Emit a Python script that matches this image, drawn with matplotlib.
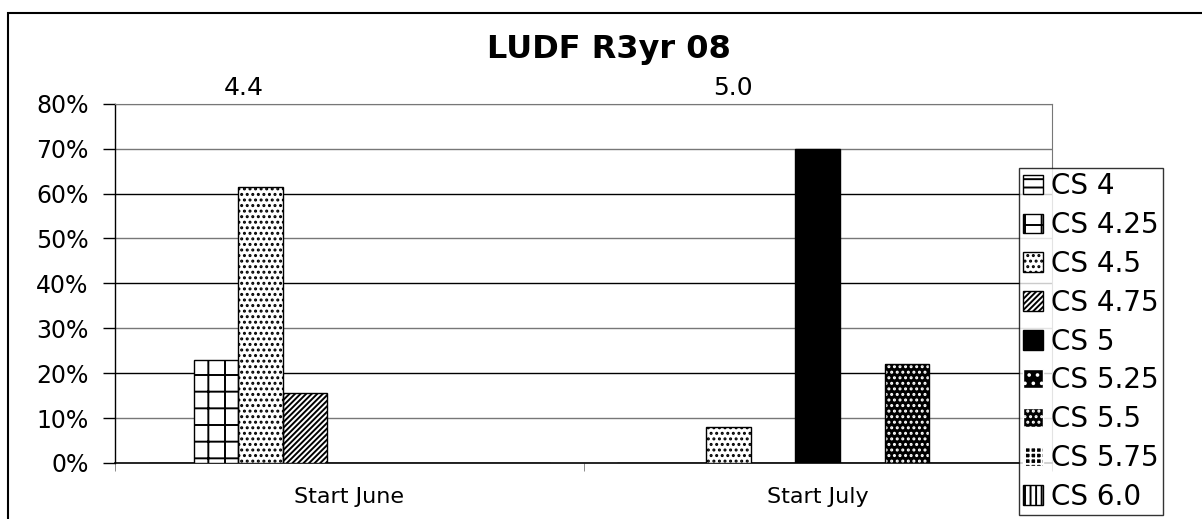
import matplotlib
matplotlib.use("Agg")
import matplotlib.pyplot as plt
from matplotlib.patches import Patch, Rectangle
from matplotlib.ticker import FuncFormatter
import numpy as np

categories = ["Start June", "Start July"]
series = ["CS 4", "CS 4.25", "CS 4.5", "CS 4.75", "CS 5",
          "CS 5.25", "CS 5.5", "CS 5.75", "CS 6.0"]
values = [
    [0, 0],       # CS 4
    [23, 0],      # CS 4.25
    [61.5, 8],    # CS 4.5
    [15.5, 0],    # CS 4.75
    [0, 70],      # CS 5
    [0, 0],       # CS 5.25
    [0, 22],      # CS 5.5
    [0, 0],       # CS 5.75
    [0, 0],       # CS 6.0
]
top_labels = ["4.4", "5.0"]

# face colour, hatch colour, hatch pattern for each series
styles = [
    ("white", "black", "--"),
    ("white", "black", "+"),
    ("white", "black", "..."),
    ("white", "black", "//////"),
    ("black", "black", ""),
    ("black", "white", ".."),
    ("black", "white", "..."),
    ("black", "white", "+++"),
    ("white", "black", "|||"),
]

plt.rcParams["font.family"] = "DejaVu Sans"
plt.rcParams["hatch.linewidth"] = 1.4

fig = plt.figure(figsize=(12.02, 5.19), dpi=100)
ax = fig.add_axes([0.0957, 0.108, 0.7795, 0.692])

x = np.arange(len(categories))
w = 0.095
for i, name in enumerate(series):
    fc, hc, hatch = styles[i]
    pos = x + (i - 4) * w
    ax.bar(pos, values[i], w, color=fc, edgecolor=hc, hatch=hatch,
           linewidth=0, zorder=3)
    ax.bar(pos, values[i], w, fill=False, edgecolor="black",
           linewidth=1.0, zorder=4)

# gridlines
for g in range(10, 81, 10):
    ax.axhline(g, color="black" if g % 20 == 0 and g < 80 else "#777777",
               linewidth=1.0, zorder=1)

ax.set_xlim(-0.5, 1.5)
ax.set_ylim(0, 80)
ax.set_yticks(range(0, 81, 10))
ax.yaxis.set_major_formatter(FuncFormatter(lambda v, p: f"{v:.0f}%"))
ax.tick_params(axis="y", direction="out", length=9, width=1, pad=10,
               labelsize=17)
ax.set_xticks(x)
ax.set_xticklabels(categories, fontsize=16)
ax.tick_params(axis="x", which="major", length=0, pad=17)
ax.set_xticks([-0.5, 0.5, 1.5], minor=True)
ax.tick_params(axis="x", which="minor", direction="out", length=6,
               color="#777777")

for s in ["top", "right"]:
    ax.spines[s].set_color("#777777")
ax.spines["left"].set_linewidth(1.0)
ax.spines["bottom"].set_linewidth(1.2)

label_x = [-0.226, -0.18]
for k, t in enumerate(top_labels):
    ax.text(x[k] + label_x[k], 80.8, t, ha="center", va="bottom",
            fontsize=18)

fig.text(0.507, 0.905, "LUDF R3yr 08", ha="center", va="center",
         fontsize=23, fontweight="bold")

# outer chart border
fig.patches.append(Rectangle((8 / 1202, -0.05), 1.1, 0.975 + 0.05,
                             transform=fig.transFigure, fill=False,
                             edgecolor="black", linewidth=1.5))

handles = [Patch(facecolor=s[0], edgecolor=s[1], hatch=s[2])
           for s in styles]
leg = fig.legend(handles, series, loc="upper left",
                 bbox_to_anchor=(1019 / 1202, 1 - 168 / 519),
                 fontsize=20, frameon=True, fancybox=False,
                 edgecolor="black", handlelength=0.7, handleheight=0.7,
                 handletextpad=0.3, labelspacing=0.39, borderpad=0.15,
                 borderaxespad=0)
leg.get_frame().set_linewidth(1.0)

fig.savefig("out.png", dpi=100)
